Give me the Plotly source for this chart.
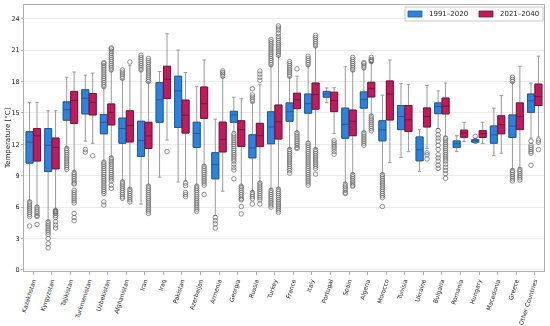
import plotly.graph_objects as go

countries = ["Kazakhstan", "Kyrgyzstan", "Tajikistan", "Turkmenistan", "Uzbekistan", "Afghanistan",
             "Iran", "Iraq", "Pakistan", "Azerbaijan", "Armenia", "Georgia", "Russia", "Turkey",
             "France", "Italy", "Portugal", "Spain", "Algeria", "Morocco", "Tunisia", "Ukraine",
             "Bulgaria", "Romania", "Hungary", "Macedonia", "Greece", "Other Countries"]

# 1991-2020: lower whisker, Q1, median, Q3, upper whisker
lo_91 = [6.6, 4.7, 11.7, 12.3, 10.4, 8.5, 6.3, 8.86, 8.4, 8.1, 5.2, 13.2, 7.5, 7.7,
         11.6, 12.25, 15.97, 8.3, 13.2, 9.2, 10.75, 9.4, 13.5, 11.3, 12.08, 10.92, 9.6, 12.6]
q1_91 = [10.2, 9.4, 14.3, 14.9, 13.0, 12.1, 10.85, 14.1, 13.6, 11.7, 8.7, 14.1, 10.7, 12.05,
         14.2, 14.97, 16.5, 12.58, 15.45, 12.33, 13.4, 10.42, 14.92, 11.7, 12.2, 12.1, 12.65, 15.05]
med_91 = [12.2, 11.9, 15.3, 16.4, 14.1, 13.5, 12.35, 16.25, 17.1, 13.05, 10.05, 14.8, 11.65, 13.65,
          15.1, 15.87, 16.8, 13.9, 16.3, 13.38, 14.65, 11.47, 15.6, 12.05, 12.32, 12.9, 13.75, 16.15]
q3_91 = [13.2, 13.5, 16.05, 17.2, 14.85, 14.5, 14.2, 17.9, 18.5, 14.1, 11.2, 15.15, 12.9, 15.1,
         15.95, 16.8, 17.05, 15.45, 17.0, 14.25, 15.7, 12.7, 15.95, 12.32, 12.45, 13.75, 14.8, 16.8]
hi_91 = [16.0, 15.2, 18.4, 18.6, 17.4, 18.2, 19.0, 18.95, 21.0, 17.5, 14.4, 16.5, 16.0, 19.5,
         18.4, 19.5, 17.38, 19.4, 19.2, 16.7, 17.8, 13.4, 17.1, 12.82, 12.6, 15.45, 17.9, 17.85]

# 2021-2040
lo_21 = [6.1, 5.8, 9.4, 12.1, 10.8, 7.8, 8.1, 12.4, 8.5, 10.0, 7.52, 8.07, 8.4, 7.8,
         13.2, 11.6, 13.02, 9.2, 14.8, 10.25, 11.3, 11.6, 12.75, 12.27, 12.08, 11.15, 9.72, 12.7]
q1_21 = [10.4, 9.65, 14.0, 14.8, 13.85, 12.22, 11.6, 16.37, 13.07, 14.47, 11.27, 11.8, 11.78, 12.5,
         15.4, 15.35, 15.12, 12.82, 16.52, 14.32, 13.22, 13.65, 14.9, 12.67, 12.65, 13.0, 13.4, 15.7]
med_21 = [12.8, 11.7, 16.2, 16.0, 15.05, 13.8, 12.8, 18.22, 14.77, 15.87, 12.47, 13.4, 12.82, 14.15,
          16.25, 16.75, 16.17, 14.2, 17.3, 16.8, 14.35, 14.65, 15.65, 13.07, 13.02, 13.87, 14.65, 16.55]
q3_21 = [13.5, 12.6, 17.05, 16.85, 15.85, 15.2, 14.1, 19.45, 16.22, 17.47, 14.12, 14.25, 14.0, 15.75,
         16.87, 17.85, 16.97, 15.27, 17.92, 18.05, 15.7, 15.47, 16.42, 13.35, 13.3, 14.72, 15.95, 17.75]
hi_21 = [16.0, 15.2, 18.9, 18.8, 19.0, 19.5, 17.9, 22.55, 18.85, 20.05, 18.4, 16.35, 17.7, 20.4,
         18.5, 21.3, 17.4, 19.0, 19.8, 20.05, 17.7, 17.62, 17.85, 14.1, 14.1, 16.65, 19.45, 20.42]

# outliers per country
out_91 = [
    [6.5, 6.3, 6.1, 5.9, 5.7, 5.5, 5.3, 5.1, 4.2],
    [4.6, 4.4, 4.2, 4.0, 3.8, 3.6, 3.4, 3.0, 2.5, 2.1],
    [11.6, 11.4, 11.2, 11.0, 10.8, 10.6, 10.4, 10.2, 10.0, 9.8, 9.6],
    [11.5, 11.25],
    [17.5, 17.7, 17.9, 18.1, 18.3, 18.5, 18.7, 18.9, 19.1, 19.3, 19.5, 19.7, 19.8,
     10.3, 10.1, 9.9, 9.7, 9.5, 9.3, 9.1, 8.9, 8.7, 8.5, 8.3, 8.1, 7.9, 7.7, 7.5, 7.3, 6.5, 6.2],
    [18.3, 18.5, 18.7, 18.9, 19.1, 8.4, 8.2, 8.0, 7.8, 7.6, 7.4, 7.2, 7.0, 6.85],
    [19.1, 19.3, 19.5, 19.7, 19.9, 20.1, 20.3, 20.5],
    [],
    [],
    [8.0, 7.8, 7.6, 7.4, 7.2, 7.0, 6.8, 6.6, 6.4, 6.2, 6.0, 5.8, 5.6],
    [5.0, 4.7, 4.4, 4.0],
    [13.0, 12.8, 12.6, 12.4, 12.2, 12.0, 11.8, 11.6, 11.4, 11.2, 11.0, 10.8, 10.6, 10.4, 10.1, 9.8, 9.55, 8.7],
    [16.1, 16.3, 16.5, 16.7, 17.3, 7.4, 7.2, 7.0, 6.8, 6.3],
    [19.6, 19.8, 20.0, 20.2, 20.4, 20.6, 20.8, 21.0, 21.2, 21.4, 21.6, 21.8, 22.0,
     7.6, 7.4, 7.2, 7.0, 6.8, 6.6, 6.4, 6.2, 6.0],
    [18.5, 18.7, 18.9, 19.1, 19.3, 19.5, 19.7, 19.9,
     11.5, 11.3, 11.1, 10.9, 10.7, 10.5, 10.3, 10.1, 9.9, 9.7, 9.5, 9.25],
    [19.6, 19.8, 20.0, 20.2, 20.4, 12.1, 11.9, 11.7, 11.5, 11.3, 11.1, 10.9, 10.7, 10.5, 10.3,
     10.1, 9.9, 9.7, 9.5, 9.3, 9.1, 8.9, 8.7, 8.5, 8.3, 8.1],
    [],
    [8.2, 8.0, 7.8, 7.6, 7.4, 7.3],
    [19.3, 19.5, 19.7, 19.8, 13.1, 12.9, 12.7, 12.5, 12.3, 12.1, 11.9],
    [9.1, 8.9, 8.7, 8.5, 8.3, 8.1, 7.9, 7.7, 7.5, 7.3, 7.1, 6.9, 6.05],
    [],
    [],
    [13.3, 12.9, 12.6, 12.3, 11.9, 11.5, 11.0, 10.7, 10.4, 10.0, 9.7],
    [],
    [12.75],
    [],
    [18.0, 18.2, 18.4, 9.5, 9.3, 9.1, 8.9, 8.7, 8.5],
    [12.3, 11.9, 11.7, 11.5, 11.3, 11.15, 10.0],
]
out_21 = [
    [6.0, 5.8, 5.6, 5.4, 5.2, 5.1, 4.35],
    [5.7, 5.6, 5.5, 5.4, 5.2, 5.0, 4.6, 4.3, 4.0],
    [9.3, 9.1, 8.9, 8.7, 8.5, 8.3, 8.2, 7.6, 7.4, 7.2, 7.0, 6.8, 6.6, 6.4, 5.4, 5.0, 4.7],
    [10.9],
    [19.1, 19.3, 19.5, 19.7, 19.9, 20.1, 20.3, 20.5, 20.7, 20.9, 21.1, 21.2,
     10.7, 10.5, 10.3, 10.1, 9.9, 9.7, 9.5, 9.3, 9.1, 8.9, 8.7, 8.5, 8.1, 7.8],
    [19.85, 7.7, 7.5, 7.3, 7.1, 6.9, 6.7, 6.5],
    [18.0, 18.2, 18.4, 18.6, 18.8, 19.0, 19.2, 19.4, 19.6, 19.8, 20.0, 20.2,
     8.0, 7.8, 7.6, 7.4, 7.2, 7.0, 6.8, 6.6, 6.4, 6.2, 6.0, 5.8, 5.6, 5.4],
    [11.3],
    [8.3, 8.05, 7.4, 7.2, 7.0],
    [9.9, 9.7, 9.5, 9.3, 9.1, 8.9, 8.7, 8.5, 8.3, 8.1, 7.2],
    [18.5, 18.7, 18.85, 19.0],
    [8.0, 7.8, 7.6, 7.4, 7.2, 7.0, 6.8, 6.7, 6.05, 5.35],
    [18.1, 18.4, 18.7, 19.0, 8.3, 8.1, 7.9, 7.7, 7.5, 7.3, 7.1, 6.9, 6.7, 6.3],
    [20.5, 20.7, 20.9, 21.1, 21.3, 21.5, 21.7, 21.9, 22.1, 22.3, 22.6, 22.9, 23.1, 23.3,
     7.7, 7.5, 7.3, 7.1, 6.9, 6.7, 6.5, 6.3, 6.1, 5.9, 5.7, 5.5],
    [19.2, 13.1, 12.9, 12.7, 12.5, 12.3, 12.1, 11.9, 11.7, 11.6],
    [21.4, 21.6, 21.8, 22.0, 22.2, 22.4, 11.5, 11.3, 11.1, 10.9, 10.7, 10.5, 10.3, 10.1, 9.9, 9.7, 9.15],
    [12.35, 12.15, 11.95, 11.75, 11.55, 11.3, 11.05],
    [19.1, 19.3, 19.5, 19.7, 19.9, 20.1, 20.3, 9.1, 8.9, 8.7, 8.5, 8.3, 8.1, 8.0],
    [19.9, 20.0, 20.1, 20.3, 14.7, 14.5, 14.3, 14.1, 13.9, 13.7, 13.5, 13.3],
    [],
    [],
    [11.2, 11.0, 10.6],
    [12.6, 12.4, 12.2, 12.0, 11.8, 11.6, 11.4, 11.2, 11.0, 10.8, 10.6, 10.4, 10.1, 9.8, 9.5, 9.2, 8.75],
    [],
    [],
    [],
    [9.6, 9.4, 9.2, 9.0, 8.8, 8.6],
    [12.4, 12.2, 11.5],
]

series_names = ["1991\u20132020", "2021\u20132040"]
fills = ["#2b83e0", "#c21a5b"]
edges = ["#1d5a9e", "#7e1039"]

series = [
    (series_names[0], fills[0], edges[0], -0.2, lo_91, q1_91, med_91, q3_91, hi_91, out_91),
    (series_names[1], fills[1], edges[1], 0.2, lo_21, q1_21, med_21, q3_21, hi_21, out_21),
]

FONT = "DejaVu Sans"
fig = go.Figure()
idx = list(range(len(countries)))

# whiskers (grey)
for name, fill, edge, off, lo, q1, med, q3, hi, outs in series:
    xs = [i + off for i in idx]
    fig.add_trace(go.Box(x=xs, lowerfence=lo, q1=q1, median=med, q3=q3, upperfence=hi,
                         width=0.38, whiskerwidth=0.5, fillcolor=fill,
                         line=dict(color="#9a9a9a", width=1), boxpoints=False,
                         showlegend=False, hoverinfo="skip"))
# boxes (colored outline)
for name, fill, edge, off, lo, q1, med, q3, hi, outs in series:
    xs = [i + off for i in idx]
    fig.add_trace(go.Box(x=xs, lowerfence=q1, q1=q1, median=med, q3=q3, upperfence=q3,
                         width=0.38, whiskerwidth=0, fillcolor=fill,
                         line=dict(color=edge, width=1), boxpoints=False,
                         name=name, showlegend=False))
# outliers
for name, fill, edge, off, lo, q1, med, q3, hi, outs in series:
    ox, oy = [], []
    for i, vals in enumerate(outs):
        for v in vals:
            ox.append(i + off)
            oy.append(v)
    fig.add_trace(go.Scatter(x=ox, y=oy, mode="markers", showlegend=False,
                             marker=dict(symbol="circle-open", size=4.5, color="#3a3a3a",
                                         line=dict(width=0.7, color="#3a3a3a")),
                             opacity=0.8, hoverinfo="skip"))

# legend (drawn in paper coordinates)
PL, PW, PB, PH = 24, 520, 271, 266
def px(x):
    return (x - PL) / PW
def py(y):
    return (PB - y) / PH

shapes = [dict(type="rect", xref="paper", yref="paper", x0=px(405), x1=px(543), y0=py(21), y1=py(7),
               line=dict(color="#c8c8c8", width=1), fillcolor="white", layer="above")]
annotations = []
for k, (sx, tx) in enumerate([(408, 427), (479, 498)]):
    shapes.append(dict(type="rect", xref="paper", yref="paper", x0=px(sx), x1=px(sx + 14),
                       y0=py(17), y1=py(11), line=dict(color=edges[k], width=0.8),
                       fillcolor=fills[k], layer="above"))
    annotations.append(dict(text=series_names[k], xref="paper", yref="paper", x=px(tx), y=py(14),
                            xanchor="left", yanchor="middle", showarrow=False,
                            font=dict(family=FONT, size=7, color="#222")))
annotations.append(dict(text="Temperature [\u00b0C]", xref="paper", yref="paper", x=0, y=0.5,
                        xanchor="center", yanchor="middle", xshift=-16, textangle=-90,
                        showarrow=False, font=dict(family=FONT, size=7, color="#222")))

fig.update_layout(
    width=550, height=326,
    margin=dict(l=24, r=6, t=5, b=55, autoexpand=False),
    paper_bgcolor="white", plot_bgcolor="white",
    boxmode="overlay", showlegend=False,
    font=dict(family=FONT, size=6.5, color="#222"),
    shapes=shapes, annotations=annotations,
)
fig.update_xaxes(range=[-0.5, 27.5], tickmode="array", tickvals=idx, ticktext=countries,
                 tickangle=-72, showgrid=False, zeroline=False, automargin=False,
                 showline=True, mirror=True, linecolor="#b0b0b0", linewidth=1,
                 ticks="outside", ticklen=3, tickcolor="#b0b0b0",
                 tickfont=dict(family=FONT, size=6, color="#222"))
fig.update_yaxes(range=[-0.1, 25.3], tickmode="array", tickvals=[0, 3, 6, 9, 12, 15, 18, 21, 24],
                 showgrid=True, gridcolor="#ebebeb", gridwidth=1, zeroline=False, automargin=False,
                 showline=True, mirror=True, linecolor="#b0b0b0", linewidth=1,
                 ticks="outside", ticklen=2, tickcolor="#b0b0b0",
                 tickfont=dict(family=FONT, size=6.5, color="#222"))

fig.write_html("out.html", config={"displayModeBar": False},
               post_script="document.body.style.margin='0';document.body.style.overflow='hidden';")
